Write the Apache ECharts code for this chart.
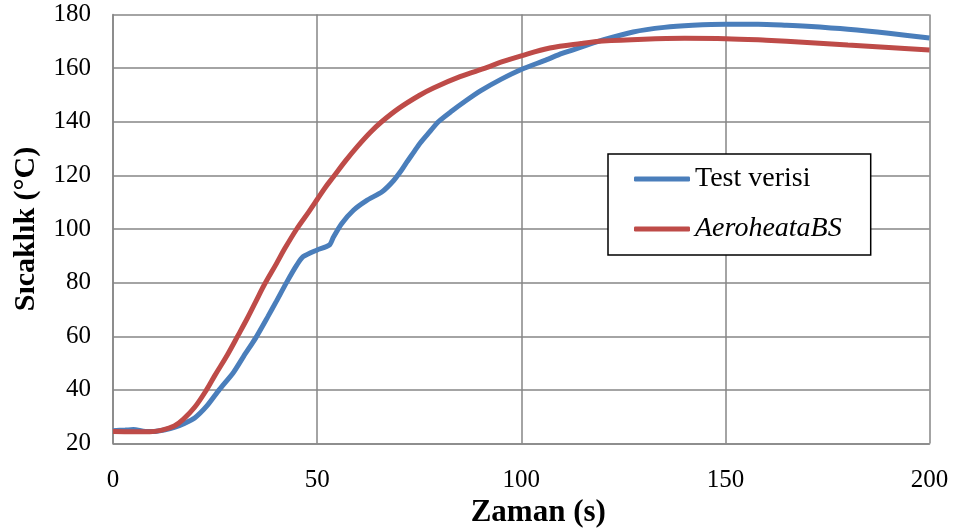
<!DOCTYPE html>
<html>
<head>
<meta charset="utf-8">
<script src="https://cdn.jsdelivr.net/npm/echarts@6/dist/echarts.min.js"></script>
<style>
html,body{margin:0;padding:0;background:#fff;}
#c{width:956px;height:529px;}
</style>
</head>
<body>
<div id="c"></div>
<script>
// Time (s) and temperature (°C) readings
const testTime = [0,3,5,8,10,13,15,17.5,20,23,26,29.5,32,35,38,40,42.5,45,46.6,50,53,54,56,58.9,62,66,68.7,70.7,72,73.6,75.2,77.6,79.7,83,86.6,90,95,100,106,110,115,120,127.4,135,142,150,158,165,170,180,190,200];
const testTemp = [24.8,25,25.2,24.5,24.5,25.2,26,27.5,29.5,34,40,46.5,52.5,59.5,67.5,73,80,86.5,89.7,92.2,94,97,102,107,110.5,114,118,122,125,128.5,132,136.3,140,144,148,151.5,155.8,159.5,163,165.5,168,170.5,173.5,175.2,176,176.4,176.4,176,175.6,174.5,173,171.2];

const modelTime = [0,5,9,12,15,17.2,20,22.9,25,28,30.7,33,35,37,40,42,45,48,50,52,54,57,60,63,65.8,70,75,78.5,85,91.5,95,100,107,114.7,120,130,140,150,160,170,180,190,200];
const modelTemp = [24.5,24.4,24.4,25,26.5,29,33.5,40,45.5,53,60.5,67,73,79,87,92.5,100,106.5,111,115.5,119.5,125.5,131,136,140,145,149.8,152.6,156.8,160.2,162.2,164.6,167.5,169.2,170.1,170.8,171.1,171,170.4,169.6,168.6,167.7,166.8];

const seriesNames = ['Test verisi','AeroheataBS'];
const xTicks = {min:0, max:200, interval:50};
const yTicks = {min:20, max:180, interval:20};

const pair = (xs, ys) => xs.map((x,i)=>[x, ys[i]]);

const chart = echarts.init(document.getElementById('c'));
const grey = '#868686';
const serif = '"Liberation Serif", "Times New Roman", serif';
chart.setOption({
  animation:false,
  backgroundColor:'#fff',
  textStyle:{fontFamily:serif, color:'#000'},
  grid:{left:113, top:14.5, right:26.5, bottom:85.5, containLabel:false, outerBoundsMode:'none'},
  xAxis:{
    type:'value', min:xTicks.min, max:xTicks.max, interval:xTicks.interval,
    name:'Zaman (s)', nameLocation:'middle', nameGap:51,
    nameTextStyle:{fontSize:31, fontWeight:'bold', color:'#000', fontFamily:serif, padding:[0,0,0,34]},
    axisLine:{show:true, lineStyle:{color:grey, width:1.5}},
    axisTick:{show:false},
    axisLabel:{fontSize:25, color:'#000', margin:24, fontFamily:serif},
    splitLine:{show:true, lineStyle:{color:grey, width:1.5}}
  },
  yAxis:{
    type:'value', min:yTicks.min, max:yTicks.max, interval:yTicks.interval,
    name:'Sıcaklık (°C)', nameLocation:'middle', nameGap:72, nameRotate:90,
    nameTextStyle:{fontSize:30, fontWeight:'bold', color:'#000', fontFamily:serif},
    axisLine:{show:true, lineStyle:{color:grey, width:1.5}},
    axisTick:{show:false},
    axisLabel:{fontSize:25, color:'#000', margin:22, fontFamily:serif},
    splitLine:{show:true, lineStyle:{color:grey, width:1.5}}
  },
  legend:{
    data:seriesNames,
    orient:'vertical',
    left:608, top:154,
    padding:[11,29,12,26],
    itemGap:22,
    itemWidth:56, itemHeight:5,
    icon:'roundRect',
    backgroundColor:'#fff',
    borderColor:'#000', borderWidth:1.5,
    formatter: n => n === 'AeroheataBS' ? '{i|' + n + '}' : '{r|' + n + '}',
    textStyle:{
      fontSize:28, color:'#000', lineHeight:28,
      rich:{
        r:{fontSize:28, fontFamily:serif, color:'#000', lineHeight:28},
        i:{fontSize:28, fontStyle:'italic', fontFamily:serif, color:'#000', lineHeight:28}
      }
    }
  },
  series:[
    {name:seriesNames[0], type:'line', data:pair(testTime,testTemp), showSymbol:false,
     smooth:0.25,
     lineStyle:{color:'#4A7EBB', width:5}, itemStyle:{color:'#4A7EBB'}},
    {name:seriesNames[1], type:'line', data:pair(modelTime,modelTemp), showSymbol:false,
     smooth:0.35,
     lineStyle:{color:'#BE4B48', width:5}, itemStyle:{color:'#BE4B48'}}
  ]
});
</script>
</body>
</html>
